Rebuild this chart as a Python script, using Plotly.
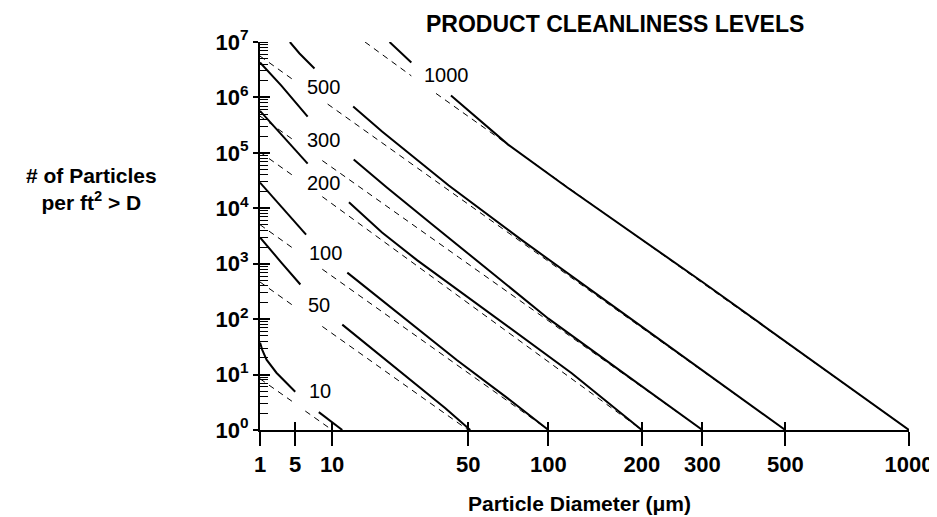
import math
import plotly.graph_objects as go

# ---------------- data ----------------
x_tick_d = [1, 5, 10, 50, 100, 200, 300, 500, 1000]
y_tick_n = [1, 10, 100, 1000, 10000, 100000, 1000000, 10000000]
y_tick_text = ["10<sup>%d</sup>" % i for i in range(8)]

# solid (measured) curves, D in micrometres, N particles per ft^2 ; None = break at label
solid_10_d = [1, 1.5, 2, 3, 5, None, 8, 11.7]
solid_10_n = [37.7, 28, 18.6, 10.8, 4.9, None, 2.1, 1]
solid_50_d = [1, 2, 3.5, 5.6, None, 11.7, 18, 27, 40, 51]
solid_50_n = [2970, 2130, 1050, 422, None, 79.6, 27.7, 8.8, 2.5, 1]
solid_100_d = [1, 2, 3.5, 6.3, None, 12.6, 20, 30, 45, 70, 100]
solid_100_n = [29100, 21500, 10900, 3350, None, 690, 217, 67, 18.1, 4.0, 1]
solid_200_d = [1, 2, 3.5, 6.5, None, 12.9, 20, 30, 50, 80, 120, 200]
solid_200_n = [573000, 425000, 218000, 64100, None, 12800, 3640, 1150, 244, 48.3, 10.6, 1]
solid_300_d = [1, 2, 3.5, 6.5, None, 13.8, 21.2, 35, 60, 100, 170, 300]
solid_300_n = [4.27e6, 3.16e6, 1.63e6, 4.5e5, None, 75700, 23700, 5160, 783, 102, 12.3, 1]
solid_500_d = [4.4, 5.5, 7.4, None, 13.7, 20, 41.5, 80, 150, 280, 500]
solid_500_n = [1.0e7, 6.2e6, 3.32e6, None, 686000, 242000, 25700, 2720, 244, 16.4, 1]
solid_1000_d = [21.9, 28.1, None, 42.4, 71.6, 116, 300, 1000]
solid_1000_n = [1.0e7, 4.27e6, None, 1.08e6, 1.41e5, 2.37e4, 468, 1]

# dashed (reference) lines
dash_10_d = [1, 5, None, 6.2, 10]
dash_10_n = [8.4, 3.0, None, 2.2, 1]
dash_50_d = [1, 5, None, 8.5, 50]
dash_50_n = [468, 165, None, 73.8, 1]
dash_100_d = [1, 5, None, 8.5, 100]
dash_100_n = [5060, 1780, None, 796, 1]
dash_200_d = [1, 5, None, 8.5, 200]
dash_200_n = [103000, 36400, None, 16200, 1]
dash_300_d = [1, 5, None, 8.5, 300]
dash_300_n = [460000, 162000, None, 72600, 1]
dash_500_d = [1, 5, None, 9.3, 500]
dash_500_n = [5.57e6, 1.96e6, None, 759000, 1]
dash_1000_d = [16.1, 28.1, None, 36.5, 1000]
dash_1000_n = [1.0e7, 2.45e6, None, 1.18e6, 1]

label_text = ["10", "50", "100", "200", "300", "500", "1000"]
label_d = [8.11, 8.04, 8.97, 8.75, 8.75, 8.75, 40.7]
label_n = [4.97, 179, 1585, 29000, 174000, 1.57e6, 2.54e6]

# ---------------- helpers ----------------
def sq_log(vals):
    return [None if v is None else math.log10(v) ** 2 for v in vals]

FONT = "Arial, Liberation Sans, Helvetica, sans-serif"

fig = go.Figure()

solids = [(solid_10_d, solid_10_n), (solid_50_d, solid_50_n), (solid_100_d, solid_100_n),
          (solid_200_d, solid_200_n), (solid_300_d, solid_300_n), (solid_500_d, solid_500_n),
          (solid_1000_d, solid_1000_n)]
dashes = [(dash_10_d, dash_10_n), (dash_50_d, dash_50_n), (dash_100_d, dash_100_n),
          (dash_200_d, dash_200_n), (dash_300_d, dash_300_n), (dash_500_d, dash_500_n),
          (dash_1000_d, dash_1000_n)]

for d, n in dashes:
    fig.add_trace(go.Scatter(x=sq_log(d), y=n, mode="lines", xaxis="x2", yaxis="y2",
                             line=dict(color="black", width=1, dash="6px,5px"),
                             connectgaps=False, hoverinfo="skip"))
for d, n in solids:
    fig.add_trace(go.Scatter(x=sq_log(d), y=n, mode="lines",
                             line=dict(color="black", width=2),
                             connectgaps=False, hoverinfo="skip"))

annotations = []
for t, d, n in zip(label_text, label_d, label_n):
    annotations.append(dict(x=math.log10(d) ** 2, y=math.log10(n), xref="x", yref="y",
                            text=t, showarrow=False, xanchor="center", yanchor="middle",
                            font=dict(family=FONT, size=20, color="black")))

annotations += [
    dict(x=-0.259, y=0.622, xref="paper", yref="paper",
         text="# of Particles<br>per ft<sup>2</sup> > D",
         showarrow=False, xanchor="center", yanchor="middle", align="center",
         font=dict(family=FONT, size=21, color="black", weight="bold")),
    dict(x=0.492, y=-0.19, xref="paper", yref="paper", text="Particle Diameter (μm)",
         showarrow=False, xanchor="center", yanchor="middle",
         font=dict(family=FONT, size=21, color="black", weight="bold")),
]

x_tickvals = sq_log(x_tick_d)
x_ticktext = [str(v) for v in x_tick_d]

fig.update_layout(
    width=937, height=517,
    margin=dict(l=252, r=28, t=34, b=95),
    plot_bgcolor="white", paper_bgcolor="white",
    showlegend=False,
    title=dict(text="PRODUCT CLEANLINESS LEVELS", x=0.648, xref="container", xanchor="center",
               y=0.970, yref="container", yanchor="middle",
               font=dict(family=FONT, size=23, color="black", weight="bold")),
    xaxis=dict(range=[0, 9], tickvals=x_tickvals, ticktext=x_ticktext,
               ticks="outside", ticklen=14, tickwidth=2, tickcolor="black",
               showline=True, linecolor="black", linewidth=2,
               showgrid=False, zeroline=False,
               tickfont=dict(family=FONT, size=22, color="black", weight="bold")),
    xaxis2=dict(range=[0, 9], overlaying="x", anchor="y2", side="bottom",
                tickvals=x_tickvals, ticks="inside", ticklen=8, tickwidth=2, tickcolor="black",
                showticklabels=False, showline=False, showgrid=False, zeroline=False),
    yaxis=dict(type="log", range=[0, 7], tickvals=y_tick_n, ticktext=y_tick_text,
               ticks="outside", ticklen=5, tickwidth=2, tickcolor="black",
               minor=dict(ticks="inside", ticklen=8, tickwidth=1, tickcolor="black",
                          dtick="D1", showgrid=False),
               showline=True, linecolor="black", linewidth=2,
               showgrid=False, zeroline=False,
               tickfont=dict(family=FONT, size=22, color="black", weight="bold")),
    yaxis2=dict(type="log", range=[0, 7], overlaying="y", anchor="x2", side="left",
                tickvals=y_tick_n, ticks="inside", ticklen=10, tickwidth=2, tickcolor="black",
                showticklabels=False, showline=False, showgrid=False, zeroline=False),
    annotations=annotations,
)

fig.write_html("out.html")
